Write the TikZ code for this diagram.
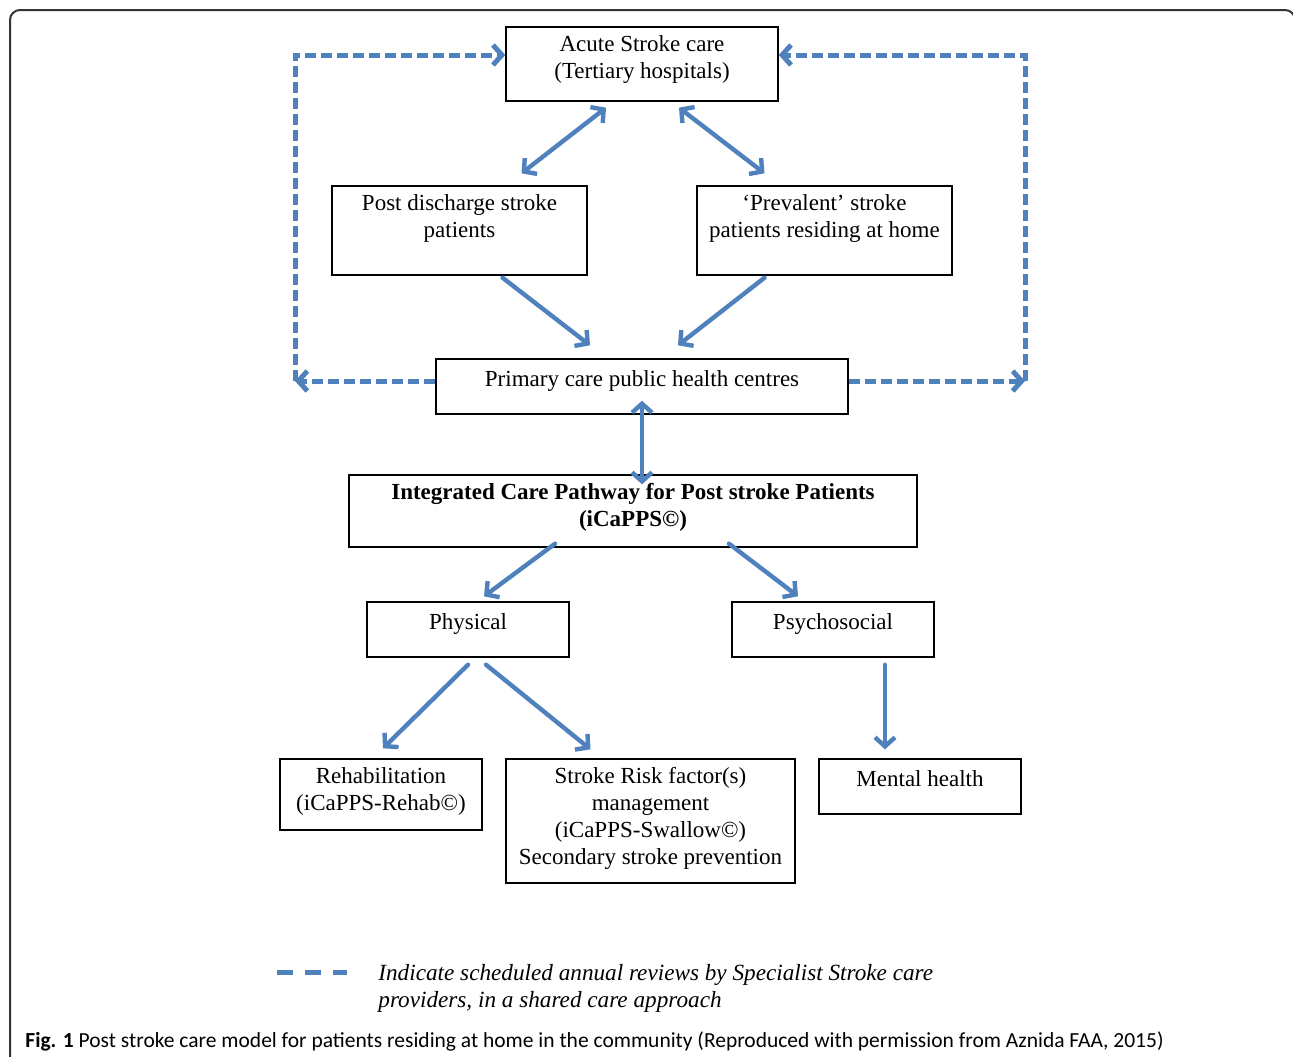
\documentclass[tikz,border=0pt]{standalone}
\usepackage{fontspec}
\setmainfont{Liberation Serif}
\newfontfamily\capfont{Carlito}
\usepackage{xcolor}
\usetikzlibrary{arrows.meta,positioning,calc}

\definecolor{linkblue}{RGB}{79,129,189}

\begin{document}
\begin{tikzpicture}[x=0.5pt, y=-0.5pt,
    >={Straight Barb[length=4.5pt,width=10pt]},
    box/.style={draw, line width=0.7pt, inner sep=0pt},
    txt/.style={anchor=north, align=center, inner sep=0pt, yshift=-4.3pt,
        font=\fontsize{11.5}{13.5}\selectfont, execute at begin node=\strut},
    link/.style={draw=linkblue, line width=2.2pt, line cap=round},
    review/.style={link, line width=2.5pt, line cap=butt, dash pattern=on 5.5pt off 2.5pt}]

    % Canvas and frame
    \useasboundingbox[fill=white] (0,0) rectangle (1293,1056);
    \draw[line width=1pt, black!80, rounded corners=5pt] (10,1100) rectangle (1295,10);

    % Boxes
    \node[box, minimum width=136pt, minimum height=37pt] (acute) at (642,64) {};
    \node[box, minimum width=127.5pt, minimum height=44.5pt] (post) at (459.5,230.5) {};
    \node[box, minimum width=127.5pt, minimum height=44.5pt] (prev) at (824.5,230.5) {};
    \node[box, minimum width=206pt, minimum height=27.5pt] (primary) at (642,386.5) {};
    \node[box, minimum width=284pt, minimum height=36pt] (icapps) at (633,511) {};
    \node[box, minimum width=101pt, minimum height=27.5pt] (phys) at (468,629.5) {};
    \node[box, minimum width=101pt, minimum height=27.5pt] (psych) at (833,629.5) {};
    \node[box, minimum width=101pt, minimum height=35.5pt] (rehab) at (381,794.5) {};
    \node[box, minimum width=144.5pt, minimum height=62pt] (risk) at (650.5,821) {};
    \node[box, minimum width=101pt, minimum height=27.5pt] (mental) at (920,786.5) {};

    % Box texts
    \node[txt] (acute-txt) at (acute.north) {Acute Stroke care\\(Tertiary hospitals)};
    \node[txt] (post-txt) at (post.north) {Post discharge stroke\\patients};
    \node[txt] (prev-txt) at (prev.north) {`Prevalent' stroke\\patients residing at home};
    \node[txt] (primary-txt) at (primary.north) {Primary care public health centres};
    \node[txt, font=\fontsize{11.5}{13.5}\selectfont\bfseries] (icapps-txt) at (icapps.north)
        {Integrated Care Pathway for Post stroke Patients\\(iCaPPS©)};
    \node[txt] (phys-txt) at (phys.north) {Physical};
    \node[txt] (psych-txt) at (psych.north) {Psychosocial};
    \node[txt] (rehab-txt) at (rehab.north) {Rehabilitation\\(iCaPPS-Rehab©)};
    \node[txt] (risk-txt) at (risk.north)
        {Stroke Risk factor(s)\\management\\(iCaPPS-Swallow©)\\Secondary stroke prevention};
    \node[txt] (mental-txt) at (mental.north) {Mental health};

    % Referral arrows
    \draw[link, <->] ($(acute.south)+(-36,6)$) -- ($(post.north)+(62,-12)$);
    \draw[link, <->] ($(acute.south)+(37,6)$) -- ($(prev.north)+(-60,-12)$);
    \draw[link, ->] ($(post.south)+(43,2)$) -- ($(primary.north)+(-52,-13)$);
    \draw[link, ->] ($(prev.south)+(-60,2)$) -- ($(primary.north)+(36,-13)$);
    \draw[link, <->] ($(primary.south)+(0,-14)$) -- ($(icapps.north)+(9,10)$);
    \draw[link, ->] ($(icapps.south)+(-78,-4)$) -- ($(phys.north)+(16,-5)$);
    \draw[link, ->] ($(icapps.south)+(96,-4)$) -- ($(psych.north)+(-35,-5)$);
    \draw[link, ->] ($(phys.south)+(0,7)$) -- ($(rehab.north)+(2,-10)$);
    \draw[link, ->] ($(phys.south)+(18,7)$) -- ($(risk.north)+(-60,-9)$);
    \draw[link, ->] ($(psych.south)+(52,7)$) -- ($(mental.north)+(-35,-9)$);

    % Annual review loops
    \coordinate (loop-lt) at (295,55);
    \coordinate (loop-lb) at (295,381);
    \coordinate (loop-rt) at (1025,55);
    \coordinate (loop-rb) at (1025,381);
    \draw[review, ->] (primary.west |- loop-lb) -- (loop-lb);
    \draw[review, ->] (loop-lb) -- (loop-lt) -- (acute.west |- loop-lt);
    \draw[review, ->] (primary.east |- loop-rb) -- (loop-rb);
    \draw[review, ->] (loop-rb) -- (loop-rt) -- (acute.east |- loop-rt);

    % Key
    \coordinate (key-a) at (277,972);
    \coordinate (key-b) at (347,972);
    \draw[review, dash pattern=on 8pt off 6pt] (key-a) -- (key-b);
    \node[txt, anchor=north west, align=left, yshift=0pt,
        font=\fontsize{11.6}{13.5}\selectfont\itshape] (key-txt) at (378,955)
        {Indicate scheduled annual reviews by Specialist Stroke care\\providers, in a shared care approach};

    % Caption
    \node[anchor=base west, inner sep=0pt, font=\capfont\fontsize{10.75}{12}\selectfont] (caption) at (25,1047)
        {\textbf{Fig. 1} Post stroke care model for patients residing at home in the community (Reproduced with permission from Aznida FAA, 2015)};
\end{tikzpicture}
\end{document}
